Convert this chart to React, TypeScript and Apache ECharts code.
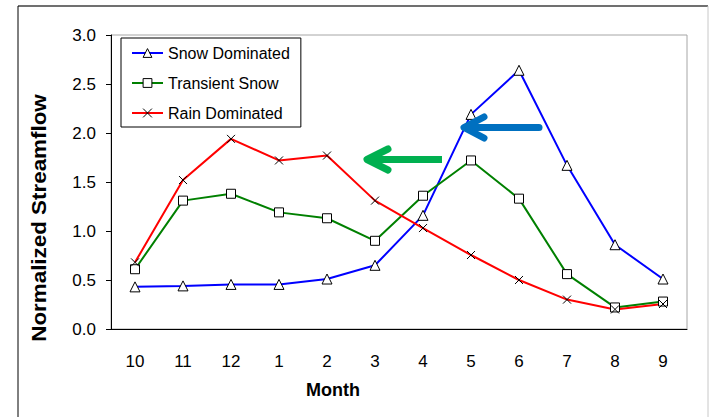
import React, { useEffect, useRef } from "react";
import * as echarts from "echarts";

const months = ["10", "11", "12", "1", "2", "3", "4", "5", "6", "7", "8", "9"];
const snowDominated = [0.43, 0.44, 0.455, 0.455, 0.51, 0.65, 1.16, 2.19, 2.64, 1.67, 0.86, 0.51];
const transientSnow = [0.61, 1.31, 1.38, 1.19, 1.13, 0.9, 1.36, 1.72, 1.33, 0.56, 0.22, 0.28];
const rainDominated = [0.68, 1.52, 1.94, 1.72, 1.77, 1.31, 1.03, 0.755, 0.5, 0.3, 0.2, 0.255];
const yTicks = [0, 0.5, 1.0, 1.5, 2.0, 2.5, 3.0];

const FONT = "'Liberation Sans', Arial, sans-serif";

export default function App() {
  const ref = useRef<HTMLDivElement>(null);
  useEffect(() => {
    if (!ref.current) return;
    const chart = echarts.init(ref.current, undefined, { renderer: "svg" });
    const marker = { color: "#ffffff", borderColor: "#000000", borderWidth: 1 };
    const mk = (name: string, data: number[], color: string, symbol: string, size: number) => ({
      name,
      type: "line",
      data,
      symbol,
      symbolSize: size,
      showAllSymbol: true,
      lineStyle: { color, width: 2 },
      itemStyle: marker,
      emphasis: { disabled: true },
    });
    chart.setOption({
      animation: false,
      textStyle: { fontFamily: FONT },
      grid: {
        left: 111,
        top: 35,
        right: 22,
        bottom: 88,
        show: true,
        borderColor: "#a6a6a6",
        borderWidth: 1,
        backgroundColor: "#ffffff",
      },
      legend: {
        orient: "vertical",
        left: 121,
        top: 38,
        padding: [7, 11, 6, 10],
        itemGap: 14,
        itemWidth: 31,
        itemHeight: 11,
        borderColor: "#000000",
        borderWidth: 1,
        backgroundColor: "#ffffff",
        itemStyle: { color: "#ffffff", borderColor: "#000000", borderWidth: 1 },
        textStyle: { fontFamily: FONT, fontSize: 16, color: "#000000" },
        data: ["Snow Dominated", "Transient Snow", "Rain Dominated"],
      },
      xAxis: {
        type: "category",
        data: months,
        boundaryGap: true,
        axisLine: { lineStyle: { color: "#000000", width: 1 } },
        axisTick: { length: 5, lineStyle: { color: "#000000" } },
        axisLabel: { fontFamily: FONT, fontSize: 17, color: "#000000", margin: 24 },
        splitLine: { show: false },
      },
      yAxis: {
        type: "value",
        min: yTicks[0],
        max: yTicks[yTicks.length - 1],
        interval: 0.5,
        axisLine: { show: true, lineStyle: { color: "#000000", width: 1 } },
        axisTick: { show: true, length: 5, lineStyle: { color: "#000000" } },
        axisLabel: {
          fontFamily: FONT,
          fontSize: 17,
          color: "#000000",
          margin: 15,
          formatter: (v: number) => v.toFixed(1),
        },
        splitLine: { show: false },
      },
      series: [
        mk("Snow Dominated", snowDominated, "#0000ff", "triangle", 10),
        mk("Transient Snow", transientSnow, "#008000", "rect", 9),
        mk("Rain Dominated", rainDominated, "#ff0000", "path://M0,0L10,10M10,0L0,10", 8),
      ],
      graphic: [
        { type: "line", shape: { x1: 18, y1: 6, x2: 708, y2: 6 }, style: { stroke: "#404040", lineWidth: 1.5 } },
        { type: "line", shape: { x1: 18, y1: 6, x2: 18, y2: 417 }, style: { stroke: "#000000", lineWidth: 1 } },
        { type: "line", shape: { x1: 708, y1: 6, x2: 708, y2: 417 }, style: { stroke: "#c8c8c8", lineWidth: 1 } },
        {
          type: "text",
          x: 333,
          y: 390,
          style: {
            text: "Month",
            fontFamily: FONT,
            fontSize: 18,
            fontWeight: "bold",
            fill: "#000000",
            align: "center",
            verticalAlign: "middle",
          },
        },
        {
          type: "text",
          x: 39,
          y: 218,
          rotation: Math.PI / 2,
          scaleX: 1.12,
          style: {
            text: "Normalized Streamflow",
            fontFamily: FONT,
            fontSize: 20,
            fontWeight: "bold",
            fill: "#000000",
            align: "center",
            verticalAlign: "middle",
          },
        },
        {
          type: "line",
          z: 100,
          shape: { x1: 539, y1: 127.5, x2: 466, y2: 127.5 },
          style: { stroke: "#0070c0", lineWidth: 7, lineCap: "round" },
        },
        {
          type: "polyline",
          z: 100,
          shape: { points: [[484, 117], [464, 127.5], [484, 138]] },
          style: { stroke: "#0070c0", lineWidth: 7, lineCap: "round", lineJoin: "round", fill: "none" },
        },
        {
          type: "line",
          z: 100,
          shape: { x1: 442, y1: 159.5, x2: 369, y2: 159.5 },
          style: { stroke: "#00b050", lineWidth: 7, lineCap: "butt" },
        },
        {
          type: "polyline",
          z: 100,
          shape: { points: [[388, 149], [367, 159.5], [388, 170]] },
          style: { stroke: "#00b050", lineWidth: 7, lineCap: "round", lineJoin: "round", fill: "none" },
        },
      ],
    });
    return () => chart.dispose();
  }, []);
  return <div ref={ref} style={{ width: 709, height: 417, position: "absolute", left: 0, top: 0 }} />;
}
